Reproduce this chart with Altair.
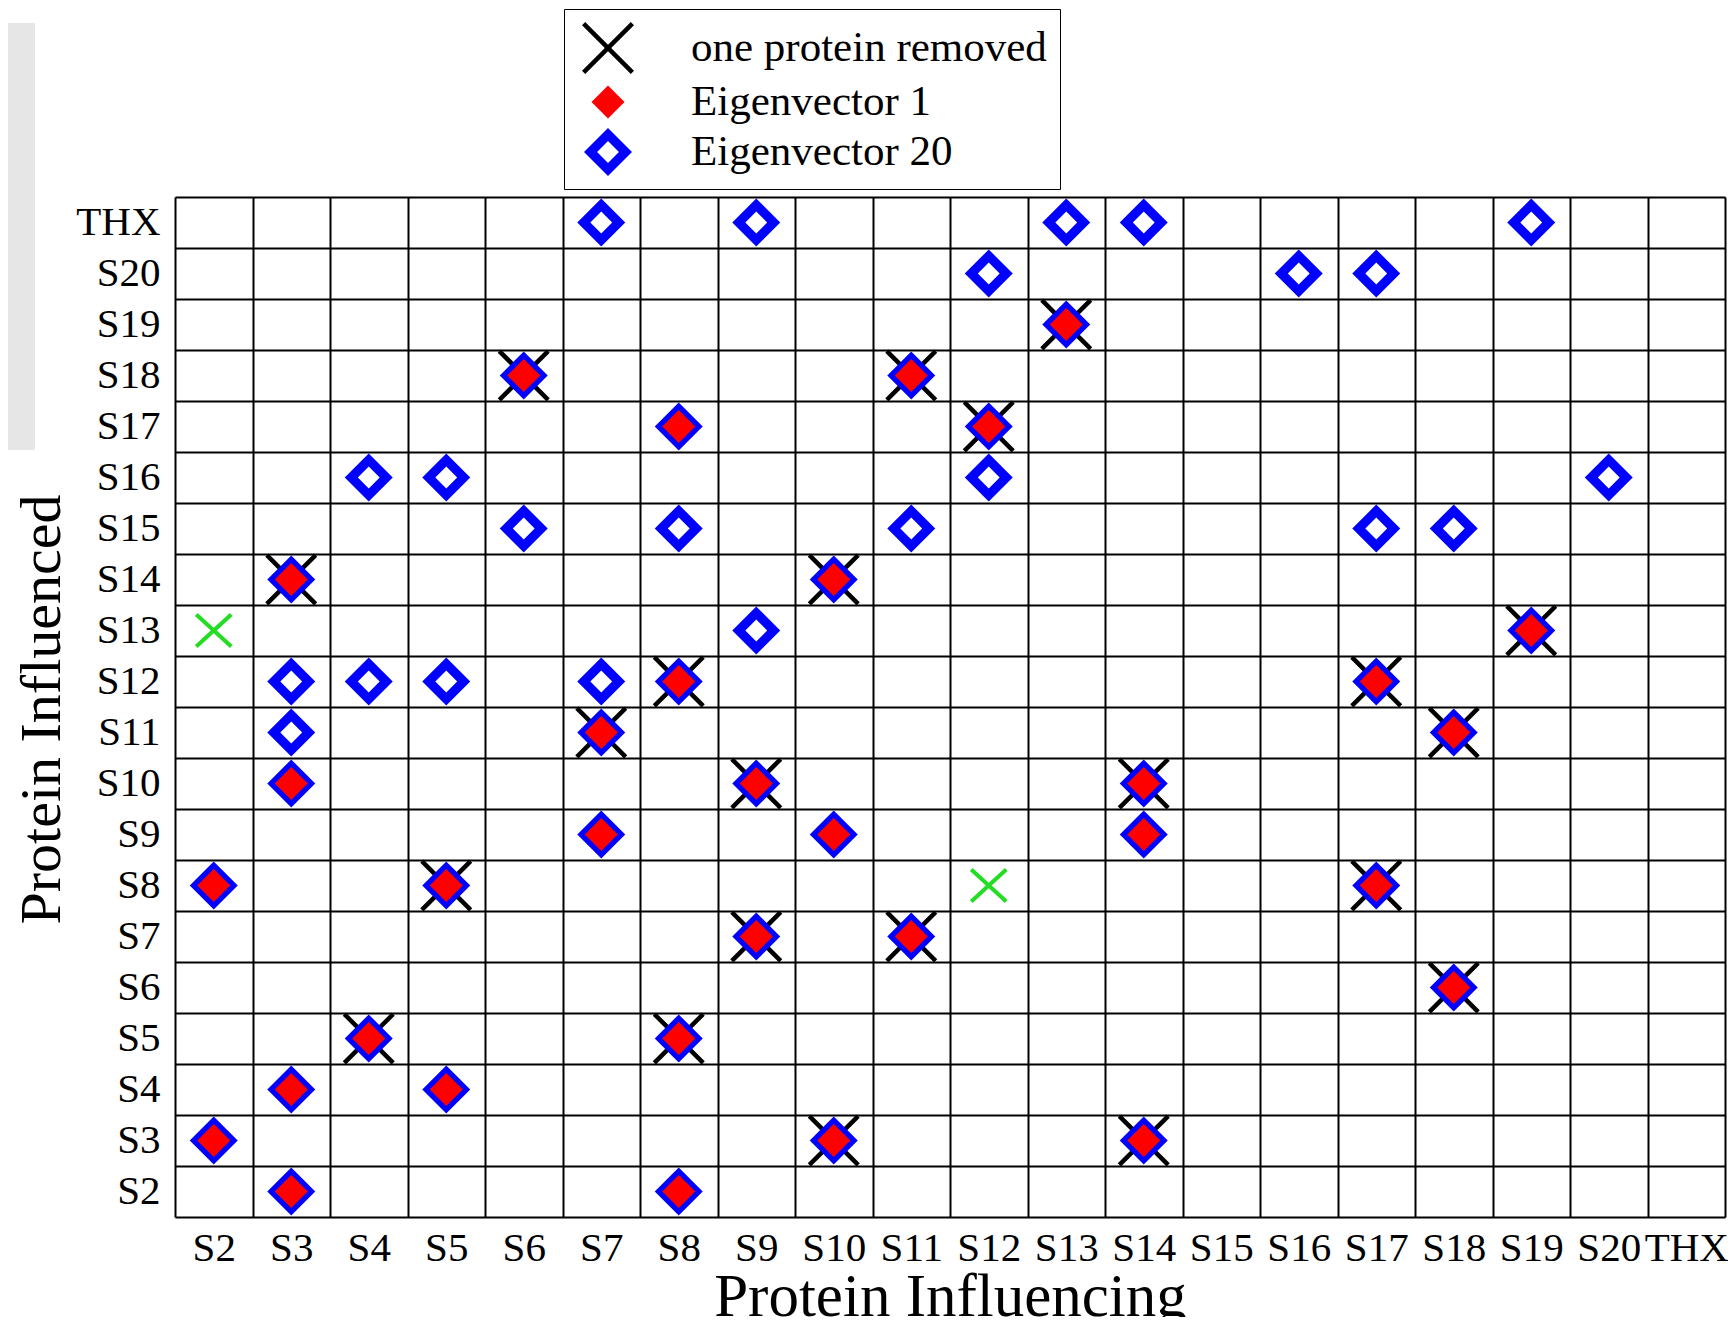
import altair as alt
import pandas as pd

# ---- categories -------------------------------------------------------
cols = ["S2", "S3", "S4", "S5", "S6", "S7", "S8", "S9", "S10", "S11",
        "S12", "S13", "S14", "S15", "S16", "S17", "S18", "S19", "S20", "THX"]
rows_top_to_bottom = list(reversed(cols))

types = ["one protein removed", "Eigenvector 1", "Eigenvector 20"]

# ---- cells (influencing, influenced) ----------------------------------
removed_cells = [("S13", "S19"), ("S6", "S18"), ("S11", "S18"), ("S12", "S17"),
                 ("S3", "S14"), ("S10", "S14"), ("S19", "S13"), ("S8", "S12"),
                 ("S17", "S12"), ("S7", "S11"), ("S18", "S11"), ("S9", "S10"),
                 ("S14", "S10"), ("S5", "S8"), ("S17", "S8"), ("S9", "S7"),
                 ("S11", "S7"), ("S18", "S6"), ("S4", "S5"), ("S8", "S5"),
                 ("S10", "S3"), ("S14", "S3")]

eig1_extra_cells = [("S8", "S17"), ("S3", "S10"), ("S7", "S9"), ("S10", "S9"),
                    ("S14", "S9"), ("S2", "S8"), ("S3", "S4"), ("S5", "S4"),
                    ("S2", "S3"), ("S3", "S2"), ("S8", "S2")]

eig20_extra_cells = [("S7", "THX"), ("S9", "THX"), ("S13", "THX"), ("S14", "THX"),
                     ("S19", "THX"), ("S12", "S20"), ("S16", "S20"), ("S17", "S20"),
                     ("S4", "S16"), ("S5", "S16"), ("S12", "S16"), ("S20", "S16"),
                     ("S6", "S15"), ("S8", "S15"), ("S11", "S15"), ("S17", "S15"),
                     ("S18", "S15"), ("S9", "S13"), ("S3", "S12"), ("S4", "S12"),
                     ("S5", "S12"), ("S7", "S12"), ("S3", "S11")]

green_cells = [("S2", "S13"), ("S12", "S8")]

eig1_cells = removed_cells + eig1_extra_cells
eig20_cells = eig1_cells + eig20_extra_cells

# ---- marker shapes (filled paths, unit box -1..1) ---------------------
X_PATH = ("M0.878,-1L1,-0.878L0.122,0L1,0.878L0.878,1L0,0.122L-0.878,1"
          "L-1,0.878L-0.122,0L-1,-0.878L-0.878,-1L0,-0.122Z")
RED_PATH = "M-0.635,0L0,-0.635L0.635,0L0,0.635Z"
BLUE_PATH = ("M-0.923,0L0,-0.923L0.923,0L0,0.923Z"
             "M-0.42,0L0,0.42L0.42,0L0,-0.42Z")
GREEN_PATH = "M-1,-0.91L1,0.91M-1,0.91L1,-0.91"

FONT = "Liberation Serif"

records = []
for c, r in removed_cells:
    records.append({"col": c, "row": r, "type": types[0]})
for c, r in eig20_cells:
    records.append({"col": c, "row": r, "type": types[2]})
for c, r in eig1_cells:
    records.append({"col": c, "row": r, "type": types[1]})
df = pd.DataFrame(records)
green_df = pd.DataFrame([{"col": c, "row": r} for c, r in green_cells])

x_scale = alt.Scale(type="band", domain=cols, paddingInner=0, paddingOuter=0)
y_scale = alt.Scale(type="band", domain=rows_top_to_bottom, paddingInner=0, paddingOuter=0)

x_axis = alt.Axis(
    title="Protein Influencing", orient="bottom", labelAngle=0,
    labelFont=FONT, labelFontSize=41, labelColor="black",
    labelBaseline="alphabetic", labelPadding=43, labelOverlap=False, labelBound=False,
    ticks=False, domain=False, grid=True, tickBand="extent",
    gridColor="black", gridWidth=2, gridOpacity=1,
    titleFont=FONT, titleFontSize=61, titleFontWeight="normal", titleColor="black",
    titleBaseline="alphabetic", titleX=775, titleY=98, titleAlign="center",
)
y_axis = alt.Axis(
    title="Protein Influenced", orient="left",
    labelFont=FONT, labelFontSize=41, labelColor="black",
    labelPadding=15, labelOverlap=False, labelBound=False,
    ticks=False, domain=False, grid=True, tickBand="extent",
    gridColor="black", gridWidth=2, gridOpacity=1,
    titleFont=FONT, titleFontSize=58, titleFontWeight="normal", titleColor="black",
    titleAngle=270, titleBaseline="alphabetic", titleX=-116, titleY=512, titleAlign="center",
)

legend = alt.Legend(
    title=None, orient="none", legendX=389, legendY=-188,
    strokeColor="black", fillColor="white", padding=13,
    labelFont=FONT, labelFontSize=43, labelColor="black", labelLimit=600,
    labelOffset=57, rowPadding=2, symbolOffset=5,
    symbolSize=2704, symbolStrokeWidth=0, symbolOpacity=1,
)

markers = alt.Chart(df).mark_point(
    filled=True, opacity=1, size=2704, strokeWidth=0
).encode(
    x=alt.X("col:N", scale=x_scale, axis=x_axis),
    y=alt.Y("row:N", scale=y_scale, axis=y_axis),
    color=alt.Color("type:N", scale=alt.Scale(domain=types, range=["black", "red", "blue"]),
                    legend=legend),
    shape=alt.Shape("type:N", scale=alt.Scale(domain=types, range=[X_PATH, RED_PATH, BLUE_PATH]),
                    legend=legend),
)

greens = alt.Chart(green_df).mark_point(
    shape=GREEN_PATH, size=1225, filled=False, stroke="#22dd22", strokeWidth=4, opacity=1
).encode(
    x=alt.X("col:N", scale=x_scale),
    y=alt.Y("row:N", scale=y_scale),
)

side_bar = alt.Chart(alt.Data(values=[{"k": 1}])).mark_rect(color="#e6e6e6").encode(
    x=alt.value(-167), x2=alt.value(-140), y=alt.value(-174), y2=alt.value(253)
)

chart = alt.layer(side_bar, markers, greens).properties(
    width=1550, height=1020,
    autosize=alt.AutoSizeParams(type="none"),
    padding={"left": 167, "top": 189, "right": 3, "bottom": 100},
).configure_view(stroke="black", strokeWidth=2).configure(background="white")

chart.save("out.html", embed_options={"renderer": "svg", "actions": False})
